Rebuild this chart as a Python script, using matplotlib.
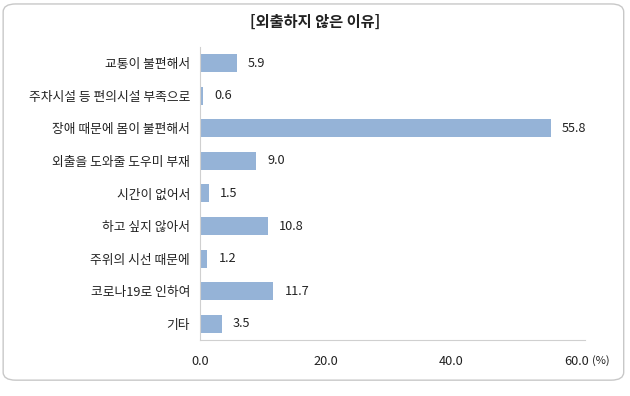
import matplotlib
matplotlib.use("Agg")
import matplotlib.pyplot as plt
from matplotlib.patches import FancyBboxPatch

plt.rcParams['font.family'] = ['Noto Sans CJK KR', 'DejaVu Sans']

title = "[외출하지 않은 이유]"
categories = ["교통이 불편해서", "주차시설 등 편의시설 부족으로", "장애 때문에 몸이 불편해서",
              "외출을 도와줄 도우미 부재", "시간이 없어서", "하고 싶지 않아서",
              "주위의 시선 때문에", "코로나19로 인하여", "기타"]
values = [5.9, 0.6, 55.8, 9.0, 1.5, 10.8, 1.2, 11.7, 3.5]
xticks = [0, 20, 40, 60]
xticklabels = ["0.0", "20.0", "40.0", "60.0"]
unit = "(%)"

fs = 9.2
fig = plt.figure(figsize=(6.3, 3.96), dpi=100)
border = FancyBboxPatch((0.005, 0.04), 0.985, 0.95, boxstyle="round,pad=0,rounding_size=0.02",
                        transform=fig.transFigure, facecolor="white", edgecolor="#c8c8c8",
                        lw=1.0, zorder=-10)
fig.patches.append(border)

ax = fig.add_axes([0.317, 0.141, 0.612, 0.741])
ax.set_zorder(5)
ax.set_facecolor("none")
y = list(range(len(categories)))
ax.barh(y, values, height=0.55, color="#95B3D7")
for yi, v in zip(y, values):
    ax.annotate(f"{v:.1f}", xy=(v, yi), xytext=(8, 0), textcoords="offset points",
                va="center", ha="left", fontsize=fs, color="#222222")
ax.set_yticks(y)
ax.set_yticklabels(categories, fontsize=fs, color="#222222")
ax.set_ylim(len(categories) - 0.5, -0.5)
ax.set_xlim(0, 61.3)
ax.set_xticks(xticks)
ax.set_xticklabels(xticklabels, fontsize=fs, color="#222222")
ax.tick_params(axis='both', length=0)
ax.tick_params(axis='x', pad=11)
ax.tick_params(axis='y', pad=7)
for s in ["top", "right"]:
    ax.spines[s].set_visible(False)
ax.spines["left"].set_color("#d0d0d0")
ax.spines["bottom"].set_color("#d0d0d0")
ax.annotate(unit, xy=(60, 0), xycoords=ax.get_xaxis_transform(), xytext=(11, -11),
            textcoords="offset points", fontsize=8, color="#222222", va="top", ha="left")
fig.text(0.5, 0.945, title, ha="center", va="center", fontsize=11, fontweight="bold",
         color="#222222", zorder=10)
fig.savefig("out.png", dpi=100)
